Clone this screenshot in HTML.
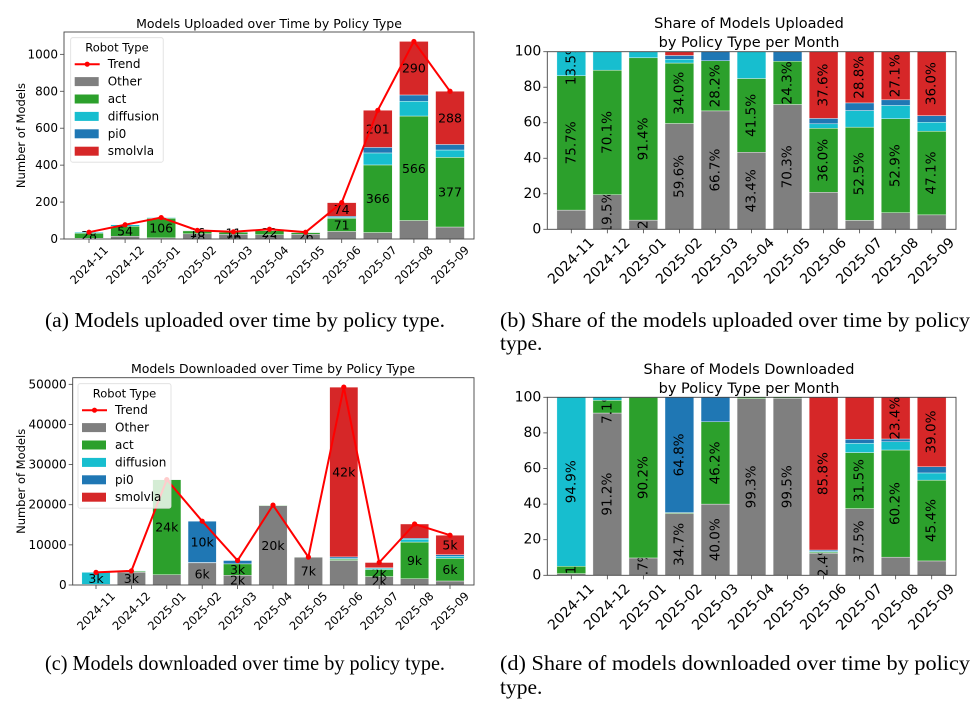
<!DOCTYPE html>
<html><head><meta charset="utf-8"><style>
body{margin:0;background:#fff;width:973px;height:704px;overflow:hidden}
svg{display:block;font-family:"DejaVu Sans","Liberation Sans",sans-serif}
.cap{font-family:"Liberation Serif",serif;font-size:21.5px;fill:#000}
</style></head><body>
<svg id="fig" width="973" height="704" viewBox="0 0 973 704" xmlns="http://www.w3.org/2000/svg">
<text class="cap" x="245" y="327" text-anchor="middle" textLength="400" lengthAdjust="spacingAndGlyphs">(a) Models uploaded over time by policy type.</text>
<text class="cap" x="500" y="327" textLength="470" lengthAdjust="spacingAndGlyphs">(b) Share of the models uploaded over time by policy</text>
<text class="cap" x="500" y="350">type.</text>
<text class="cap" x="245" y="670" text-anchor="middle" textLength="400" lengthAdjust="spacingAndGlyphs">(c) Models downloaded over time by policy type.</text>
<text class="cap" x="500" y="670" textLength="470" lengthAdjust="spacingAndGlyphs">(d) Share of models downloaded over time by policy</text>
<text class="cap" x="500" y="694">type.</text>
</svg>
<script>
const months = ["2024-11","2024-12","2025-01","2025-02","2025-03","2025-04","2025-05","2025-06","2025-07","2025-08","2025-09"];
const seriesNames = ["Other","act","diffusion","pi0","smolvla"];
const upOther = [4,15,6,28,26,23,26,41,35,100,65];
const upAct = [28,54,106,16,11,22,9,71,366,566,377];
const upDiff = [5,8,4,1,0,8,0,5,65,80,40];
const upPi0 = [0,0,0,1,2,0,2,6,30,34,30];
const upSmol = [0,0,0,1,0,0,0,74,201,290,288];
const upShowOther = [0,0,0,1,1,1,1,0,0,0,0];
const upShowAct = [1,1,1,1,1,1,0,1,1,1,1];
const upShowDiff = [0,0,0,0,0,0,0,0,0,0,0];
const upShowPi0 = [0,0,0,0,0,0,0,0,0,0,0];
const upShowSmol = [0,0,0,0,0,0,0,1,1,1,1];
const upTicks = [0,200,400,600,800,1000];
const dnOther = [30,3200,2560,5520,2440,19760,6915,6110,2100,1550,1000];
const dnAct = [130,250,23700,80,2820,140,35,300,1765,9150,5630];
const dnDiff = [2990,60,10,0,0,0,0,200,290,700,500];
const dnPi0 = [0,0,0,10300,840,0,0,390,130,240,430];
const dnSmol = [0,0,0,0,0,0,0,42300,1320,3560,4840];
const dnShowOther = [0,1,0,1,1,1,1,0,1,0,0];
const dnShowAct = [0,0,1,0,1,0,0,0,1,1,1];
const dnShowDiff = [1,0,0,0,0,0,0,0,0,0,0];
const dnShowPi0 = [0,0,0,1,0,0,0,0,0,0,0];
const dnShowSmol = [0,0,0,0,0,0,0,1,0,0,1];
const dnTicks = [0,10000,20000,30000,40000,50000];
const shareTicks = [0,20,40,60,80,100];

const COLORS = ["#7f7f7f","#2ca02c","#17becf","#1f77b4","#d62728"];
const NS = "http://www.w3.org/2000/svg";
const svg = document.getElementById("fig");
function mk(tag, attrs, parent){const e=document.createElementNS(NS,tag);for(const k in attrs)e.setAttribute(k,attrs[k]);(parent||svg).appendChild(e);return e;}
let clipId=0;

function chart(cfg){
  const g = mk("g",{});
  
  
  const L=cfg.L,R=cfg.R,T=cfg.T,B=cfg.B,n=months.length;
  const step=(cfg.xLast-cfg.xFirst)/(n-1);
  const xC=i=>cfg.xFirst+i*step;
  const y=v=>B-(v/cfg.ymax)*(B-T);
  const bw=step*0.8;
  const series=cfg.series;
  const totals=months.map((m,i)=>series.reduce((s,a)=>s+a[i],0));
  const cid="clip"+(clipId++);
  const cp=mk("clipPath",{id:cid},g); mk("rect",{x:L,y:T,width:R-L,height:B-T},cp);
  cfg.title.forEach((t,k)=>{
    const tt=mk("text",{x:cfg.titleX,y:cfg.titleY+k*19,"text-anchor":"middle","font-size":cfg.titleSize},g);
    tt.textContent=t;
    
    
  });
  const barsG=mk("g",{"clip-path":"url(#"+cid+")"},g);
  months.forEach((m,i)=>{
    let base=0;
    const tot=totals[i];
    const vals=series.map(a=>cfg.share? (tot? a[i]/tot*100:0) : a[i]);
    let order=[];
    if(cfg.share){order=vals.map((v,k)=>[v,k]).sort((a,b)=>b[0]-a[0]).slice(0,2).filter(p=>p[0]>=2).map(p=>p[1]);}
    vals.forEach((v,k)=>{
      if(v>0){
        const r=mk("rect",{x:xC(i)-bw/2,y:y(base+v),width:bw,height:y(base)-y(base+v),fill:COLORS[k],stroke:"#fff","stroke-width":0.4},barsG);
        
        
        let show=false, txt="";
        if(cfg.share){show=order.includes(k);txt=v.toFixed(1)+"%";}
        else{show=cfg.show[k][i]==1;txt=cfg.fmt(v);}
        if(show){
          const cy=y(base+v/2), cx=xC(i);
          const lt=mk("text",{x:cx,y:cy,"text-anchor":"middle","dominant-baseline":"central","font-size":cfg.share?13.5:12.5},barsG);
          if(cfg.share) lt.setAttribute("transform","rotate(-90 "+cx+" "+cy+")");
          lt.textContent=txt;
          
          
        }
      }
      base+=v;
    });
  });
  if(cfg.trend){
    const pts=totals.map((t,i)=>xC(i)+","+y(t)).join(" ");
    const pl=mk("polyline",{points:pts,fill:"none",stroke:"#ff0000","stroke-width":2},g);
    
    
    totals.forEach((t,i)=>{
      const c=mk("circle",{cx:xC(i),cy:y(t),r:2.6,fill:"#ff0000"},g);
      
      
    });
  }
  const fr=mk("rect",{x:L,y:T,width:R-L,height:B-T,fill:"none",stroke:"#444","stroke-width":0.9},g);
  
  
  cfg.ticks.forEach(v=>{
    mk("line",{x1:L-4,x2:L,y1:y(v),y2:y(v),stroke:"#444","stroke-width":0.8},g);
    const t=mk("text",{x:L-6,y:y(v),"text-anchor":"end","dominant-baseline":"central","font-size":cfg.tickSize},g);
    t.textContent=v;
    
    
  });
  months.forEach((m,i)=>{
    mk("line",{x1:xC(i),x2:xC(i),y1:B,y2:B+4,stroke:"#444","stroke-width":0.8},g);
    const cx=xC(i), cy=B+cfg.xlOff;
    const t=mk("text",{x:cx,y:cy,"text-anchor":"middle","dominant-baseline":"central","font-size":cfg.xTickSize,transform:"rotate(-45 "+cx+" "+cy+")"},g);
    t.textContent=m;
    
    
  });
  if(cfg.ylabel){
    const yl=mk("text",{x:21,y:(T+B)/2,"text-anchor":"middle","dominant-baseline":"central","font-size":11.5,transform:"rotate(-90 21 "+((T+B)/2)+")"},g);
    yl.textContent=cfg.ylabel;
    
    
  }
  if(cfg.legend){
    const lg=cfg.legend;
    const lgG=mk("g",{},g);
    
    
    mk("rect",{x:lg.x,y:lg.y,width:lg.w,height:lg.h,rx:2,fill:"rgba(255,255,255,0.8)",stroke:"#ddd","stroke-width":0.8},lgG);
    const tt=mk("text",{x:lg.x+lg.w/2,y:lg.y+10,"text-anchor":"middle","dominant-baseline":"central","font-size":11.5},lgG);
    tt.textContent="Robot Type";
    const names=["Trend"].concat(seriesNames);
    names.forEach((nm,k)=>{
      const ey=lg.y+26.5+k*17.4;
      const eg=mk("g",{},lgG);
      
      
      if(k==0){mk("line",{x1:lg.x+4,x2:lg.x+29,y1:ey,y2:ey,stroke:"#ff0000","stroke-width":2},eg);mk("circle",{cx:lg.x+16.5,cy:ey,r:2.6,fill:"#ff0000"},eg);}
      else mk("rect",{x:lg.x+4,y:ey-4.5,width:24,height:9,fill:COLORS[k-1]},eg);
      const t=mk("text",{x:lg.x+37,y:ey,"dominant-baseline":"central","font-size":12},eg);
      t.textContent=nm;
    });
  }
}
const kfmt=v=>Math.round(v/1000)+"k";
chart({name:"chart-uploads",L:64,R:474,T:32,B:239,xFirst:89,xLast:450,ymax:1121,series:[upOther,upAct,upDiff,upPi0,upSmol],
  show:[upShowOther,upShowAct,upShowDiff,upShowPi0,upShowSmol],fmt:v=>String(v),trend:true,ticks:upTicks,
  title:["Models Uploaded over Time by Policy Type"],titleX:269,titleY:28,titleSize:12.5,tickSize:12,xTickSize:11.5,xlOff:26,
  ylabel:"Number of Models",legend:{x:70.7,y:37.7,w:92.5,h:124.5}});
chart({name:"chart-upload-share",L:547.3,R:956,T:51.7,B:229.3,xFirst:571.3,xLast:931.7,ymax:100,series:[upOther,upAct,upDiff,upPi0,upSmol],
  share:true,ticks:shareTicks,title:["Share of Models Uploaded","by Policy Type per Month"],titleX:749,titleY:28,titleSize:14.5,tickSize:14,xTickSize:14,xlOff:32});
chart({name:"chart-downloads",L:72.7,R:474,T:377.7,B:585,xFirst:96,xLast:450,ymax:51650,series:[dnOther,dnAct,dnDiff,dnPi0,dnSmol],
  show:[dnShowOther,dnShowAct,dnShowDiff,dnShowPi0,dnShowSmol],fmt:kfmt,trend:true,ticks:dnTicks,
  title:["Models Downloaded over Time by Policy Type"],titleX:273,titleY:373,titleSize:12.5,tickSize:12,xTickSize:11.5,xlOff:26,
  ylabel:"Number of Models",legend:{x:78,y:383.7,w:93,h:124.5}});
chart({name:"chart-download-share",L:547.3,R:956,T:397.3,B:575.3,xFirst:571.3,xLast:931.7,ymax:100,series:[dnOther,dnAct,dnDiff,dnPi0,dnSmol],
  share:true,ticks:shareTicks,title:["Share of Models Downloaded","by Policy Type per Month"],titleX:749,titleY:374,titleSize:14.5,tickSize:14,xTickSize:14,xlOff:32});
</script>
</body></html>
